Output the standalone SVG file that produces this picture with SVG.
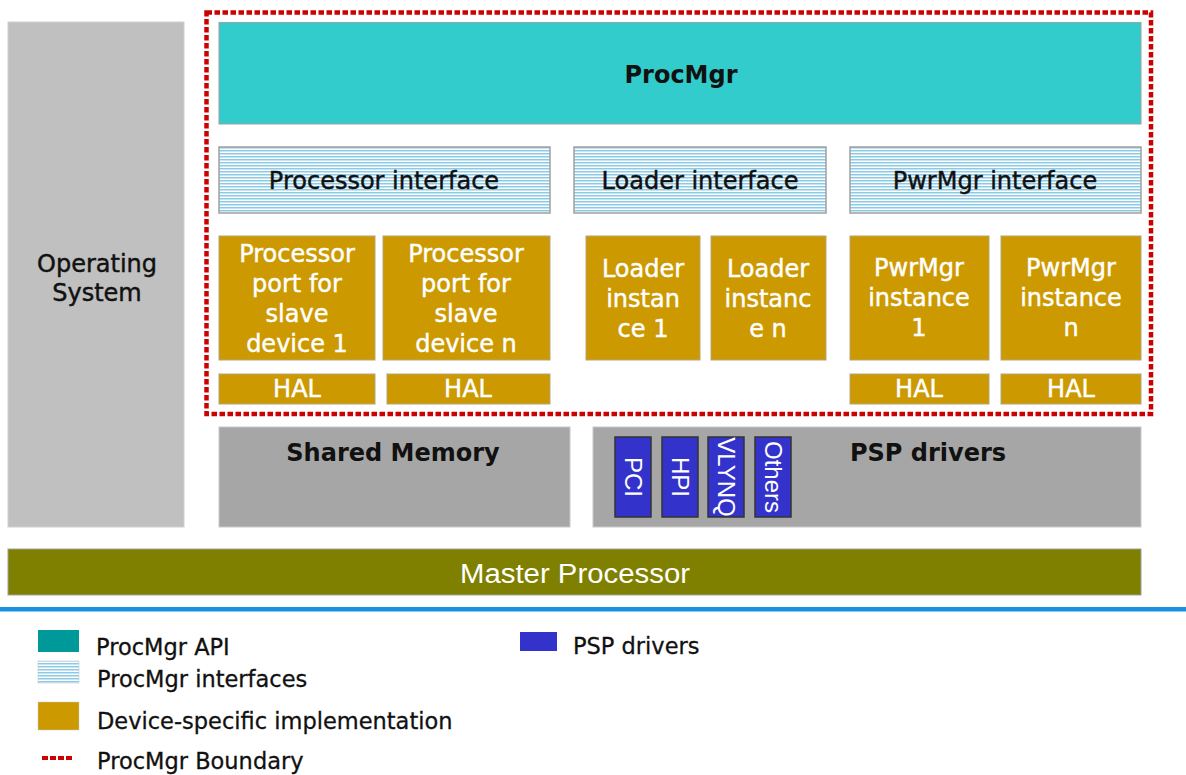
<svg xmlns="http://www.w3.org/2000/svg" width="1186" height="775" viewBox="0 0 1186 775">
<defs>
<pattern id="stripes" patternUnits="userSpaceOnUse" width="6" height="3">
<rect x="0" y="0" width="6" height="3" fill="#ffffff"/>
<rect x="0" y="0" width="6" height="1.5" fill="#8ccbe8"/>
</pattern>
<style>
.t{font-family:"DejaVu Sans",Verdana,sans-serif;font-size:24px;text-anchor:middle;stroke-width:0.45}
.b{font-family:"DejaVu Sans",Verdana,sans-serif;font-size:24px;font-weight:bold;text-anchor:middle;fill:#111111}
.blk{fill:#111111;stroke:#111111}
.wht{fill:#ffffff;stroke:#ffffff}
.gold{fill:#cc9900;stroke:#b5a57a;stroke-width:1}
.iface{fill:url(#stripes);stroke:#a0a0a0;stroke-width:1.5}
.gray{fill:#a6a6a6;stroke:#c8c8c8;stroke-width:1}
.psp{fill:#3333cc;stroke:#333333;stroke-width:1.5}
.pt{font-family:"Liberation Sans",Arial,sans-serif;font-size:24px;fill:#ffffff;text-anchor:middle}
.leg{font-family:"DejaVu Sans",Verdana,sans-serif;font-size:22.5px;fill:#111111;stroke:#111111;stroke-width:0.3}
</style>
</defs>
<rect width="1186" height="775" fill="#ffffff"/>

<g id="os">
<rect x="8" y="22" width="176" height="505" fill="#c0c0c0" stroke="#d0d0d0" stroke-width="1"/>
<text class="t blk" x="97" y="272">Operating</text>
<text class="t blk" x="97" y="301">System</text>
</g>

<g id="procmgr">
<rect x="219" y="22.5" width="922" height="101.5" fill="#33cccc" stroke="#a0a0a0" stroke-width="1"/>
<text class="b" x="681" y="83" font-size="23">ProcMgr</text>
</g>

<g id="processor-interface">
<rect x="219" y="147" width="331" height="66" class="iface"/>
<text class="t blk" x="384" y="189">Processor interface</text>
</g>
<g id="loader-interface">
<rect x="574" y="147" width="252" height="66" class="iface"/>
<text class="t blk" x="700" y="189">Loader interface</text>
</g>
<g id="pwrmgr-interface">
<rect x="850" y="147" width="291" height="66" class="iface"/>
<text class="t blk" x="995" y="189">PwrMgr interface</text>
</g>

<g id="proc-port-1">
<rect x="219" y="236" width="156" height="124" class="gold"/>
<text class="t wht" x="297" y="262">Processor</text>
<text class="t wht" x="297" y="292">port for</text>
<text class="t wht" x="297" y="322">slave</text>
<text class="t wht" x="297" y="352">device 1</text>
</g>
<g id="proc-port-n">
<rect x="383" y="236" width="167" height="124" class="gold"/>
<text class="t wht" x="466" y="262">Processor</text>
<text class="t wht" x="466" y="292">port for</text>
<text class="t wht" x="466" y="322">slave</text>
<text class="t wht" x="466" y="352">device n</text>
</g>
<g id="loader-1">
<rect x="586" y="236" width="114" height="124" class="gold"/>
<text class="t wht" x="643" y="277">Loader</text>
<text class="t wht" x="643" y="307">instan</text>
<text class="t wht" x="643" y="337">ce 1</text>
</g>
<g id="loader-n">
<rect x="711" y="236" width="115" height="124" class="gold"/>
<text class="t wht" x="768" y="277">Loader</text>
<text class="t wht" x="768" y="307">instanc</text>
<text class="t wht" x="768" y="337">e n</text>
</g>
<g id="pwrmgr-1">
<rect x="850" y="236" width="139" height="124" class="gold"/>
<text class="t wht" x="919" y="276">PwrMgr</text>
<text class="t wht" x="919" y="306">instance</text>
<text class="t wht" x="919" y="336">1</text>
</g>
<g id="pwrmgr-n">
<rect x="1001" y="236" width="140" height="124" class="gold"/>
<text class="t wht" x="1071" y="276">PwrMgr</text>
<text class="t wht" x="1071" y="306">instance</text>
<text class="t wht" x="1071" y="336">n</text>
</g>

<g id="hal-1">
<rect x="219" y="374" width="156" height="30" class="gold"/>
<text class="t wht" x="297" y="397">HAL</text>
</g>
<g id="hal-2">
<rect x="387" y="374" width="163" height="30" class="gold"/>
<text class="t wht" x="468" y="397">HAL</text>
</g>
<g id="hal-3">
<rect x="850" y="374" width="139" height="30" class="gold"/>
<text class="t wht" x="919" y="397">HAL</text>
</g>
<g id="hal-4">
<rect x="1001" y="374" width="140" height="30" class="gold"/>
<text class="t wht" x="1071" y="397">HAL</text>
</g>

<g id="boundary">
<rect x="206.5" y="12.5" width="944.5" height="401.5" fill="none" stroke="#cc0000" stroke-width="4.5" stroke-dasharray="5.5 2.5"/>
</g>

<g id="shared-memory">
<rect x="219" y="427" width="351" height="100" class="gray"/>
<text class="b" x="393" y="461">Shared Memory</text>
</g>

<g id="psp-drivers">
<rect x="593" y="427" width="548" height="100" class="gray"/>
<text class="b" x="928" y="461">PSP drivers</text>
</g>
<g id="pci">
<rect x="615" y="437" width="36" height="80" class="psp"/>
<text class="pt" x="624.5" y="477" transform="rotate(90 624.5 477)">PCI</text>
</g>
<g id="hpi">
<rect x="662" y="437" width="36" height="80" class="psp"/>
<text class="pt" x="671.5" y="477" transform="rotate(90 671.5 477)">HPI</text>
</g>
<g id="vlynq">
<rect x="708" y="437" width="36" height="80" class="psp"/>
<text class="pt" x="717.5" y="477" transform="rotate(90 717.5 477)">VLYNQ</text>
</g>
<g id="others">
<rect x="755" y="437" width="36" height="80" class="psp"/>
<text class="pt" x="764.5" y="477" transform="rotate(90 764.5 477)">Others</text>
</g>

<g id="master-processor">
<rect x="8" y="549" width="1133" height="46" fill="#808000" stroke="#a0a0a0" stroke-width="1"/>
<text x="575" y="583" font-family="'Liberation Sans',Arial,sans-serif" font-size="27" fill="#ffffff" text-anchor="middle" textLength="230" lengthAdjust="spacingAndGlyphs">Master Processor</text>
</g>

<g id="divider">
<rect x="0" y="607" width="1186" height="4.5" fill="#1a90e0"/>
</g>

<g id="legend">
<rect x="38" y="630" width="41" height="22" fill="#009999"/>
<text class="leg" x="96" y="655">ProcMgr API</text>
<rect x="38" y="661" width="41" height="22" fill="url(#stripes)" stroke="#c0c0c0" stroke-width="0.5"/>
<text class="leg" x="97" y="687">ProcMgr interfaces</text>
<rect x="38" y="702" width="41" height="28" fill="#cc9900" stroke="#c8c8c8" stroke-width="0.5"/>
<text class="leg" x="97" y="729">Device-specific implementation</text>
<line x1="42" y1="758" x2="74" y2="758" stroke="#cc0000" stroke-width="4" stroke-dasharray="6 2"/>
<text class="leg" x="97" y="769">ProcMgr Boundary</text>
<rect x="520" y="632" width="37" height="19" fill="#3333cc"/>
<text class="leg" x="573" y="654">PSP drivers</text>
</g>
</svg>
